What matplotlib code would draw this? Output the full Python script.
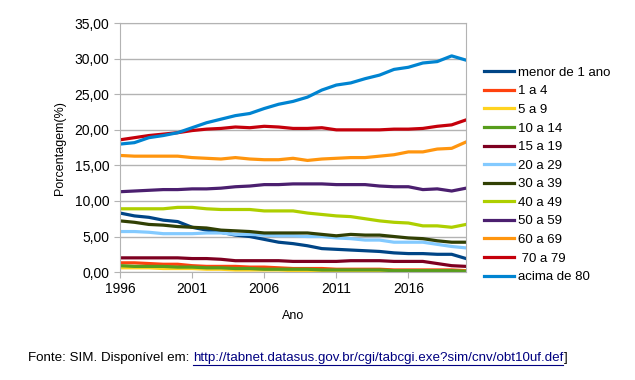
import numpy as np
import matplotlib.pyplot as plt
from matplotlib.ticker import FuncFormatter

plt.rcParams['font.family'] = ['Liberation Sans', 'DejaVu Sans']

anos = list(range(1996, 2021))

menor_1 = [8.3, 7.9, 7.7, 7.3, 7.1, 6.3, 5.9, 5.6, 5.2, 5.0, 4.6, 4.2, 4.0, 3.7, 3.3, 3.2, 3.1, 3.0, 2.9, 2.7, 2.6, 2.6, 2.5, 2.5, 1.9]
de_1_4 = [1.3, 1.3, 1.2, 1.1, 1.1, 0.9, 0.8, 0.8, 0.8, 0.7, 0.7, 0.6, 0.5, 0.5, 0.5, 0.4, 0.4, 0.4, 0.4, 0.3, 0.3, 0.3, 0.3, 0.3, 0.2]
de_5_9 = [0.6, 0.6, 0.6, 0.5, 0.5, 0.5, 0.4, 0.4, 0.3, 0.3, 0.3, 0.3, 0.2, 0.2, 0.2, 0.2, 0.2, 0.2, 0.2, 0.1, 0.1, 0.1, 0.1, 0.1, 0.1]
de_10_14 = [0.9, 0.8, 0.8, 0.8, 0.7, 0.7, 0.6, 0.6, 0.5, 0.5, 0.4, 0.4, 0.4, 0.4, 0.3, 0.3, 0.3, 0.3, 0.3, 0.2, 0.2, 0.2, 0.2, 0.2, 0.1]
de_15_19 = [2.0, 2.0, 2.0, 2.0, 2.0, 1.9, 1.9, 1.8, 1.6, 1.6, 1.6, 1.6, 1.5, 1.5, 1.5, 1.5, 1.6, 1.6, 1.6, 1.5, 1.5, 1.5, 1.2, 0.9, 0.8]
de_20_29 = [5.7, 5.7, 5.6, 5.4, 5.4, 5.4, 5.5, 5.5, 5.3, 5.3, 5.2, 5.1, 5.1, 5.0, 5.0, 4.8, 4.7, 4.5, 4.5, 4.2, 4.2, 4.2, 3.9, 3.6, 3.4]
de_30_39 = [7.2, 7.0, 6.7, 6.6, 6.4, 6.3, 6.2, 5.9, 5.8, 5.7, 5.5, 5.5, 5.5, 5.5, 5.3, 5.1, 5.3, 5.2, 5.2, 5.0, 4.8, 4.7, 4.4, 4.2, 4.2]
de_40_49 = [8.9, 8.9, 8.9, 8.9, 9.1, 9.1, 8.9, 8.8, 8.8, 8.8, 8.6, 8.6, 8.6, 8.3, 8.1, 7.9, 7.8, 7.5, 7.2, 7.0, 6.9, 6.5, 6.5, 6.3, 6.7]
de_50_59 = [11.3, 11.4, 11.5, 11.6, 11.6, 11.7, 11.7, 11.8, 12.0, 12.1, 12.3, 12.3, 12.4, 12.4, 12.4, 12.3, 12.3, 12.3, 12.1, 12.0, 12.0, 11.6, 11.7, 11.4, 11.8]
de_60_69 = [16.4, 16.3, 16.3, 16.3, 16.3, 16.1, 16.0, 15.9, 16.1, 15.9, 15.8, 15.8, 16.0, 15.7, 15.9, 16.0, 16.1, 16.1, 16.3, 16.5, 16.9, 16.9, 17.3, 17.4, 18.3]
de_70_79 = [18.6, 18.9, 19.2, 19.4, 19.6, 19.9, 20.1, 20.2, 20.4, 20.3, 20.5, 20.4, 20.2, 20.2, 20.3, 20.0, 20.0, 20.0, 20.0, 20.1, 20.1, 20.2, 20.5, 20.7, 21.4]
acima_80 = [18.0, 18.2, 18.9, 19.2, 19.6, 20.3, 21.0, 21.5, 22.0, 22.3, 23.0, 23.6, 24.0, 24.6, 25.6, 26.3, 26.6, 27.2, 27.7, 28.5, 28.8, 29.4, 29.6, 30.4, 29.8]

rotulos = ['menor de 1 ano', '1 a 4', '5 a 9', '10 a 14', '15 a 19', '20 a 29',
           '30 a 39', '40 a 49', '50 a 59', '60 a 69', ' 70 a 79', 'acima de 80']
series = [menor_1, de_1_4, de_5_9, de_10_14, de_15_19, de_20_29,
          de_30_39, de_40_49, de_50_59, de_60_69, de_70_79, acima_80]
cores = ['#004586', '#ff420e', '#ffd320', '#579d1c', '#7e0021', '#83caff',
         '#314004', '#aecf00', '#4b1f6f', '#ff950e', '#c5000b', '#0084d1']

fig = plt.figure(figsize=(6.35, 3.80), dpi=100)
ax = fig.add_axes([0.189, 0.284, 0.545, 0.655])

for valores, rotulo, cor in zip(series, rotulos, cores):
    ax.plot(anos, valores, color=cor, linewidth=2.3, label=rotulo,
            solid_joinstyle='round')

ax.set_xlim(1996, 2020)
ax.set_ylim(0, 35)
ax.set_xticks(range(1996, 2020, 5))
ax.set_yticks(np.arange(0, 36, 5))
ax.yaxis.set_major_formatter(FuncFormatter(lambda v, p: f'{v:.2f}'.replace('.', ',')))
ax.grid(axis='y', color='#b3b3b3', linewidth=1)
ax.set_axisbelow(True)
for s in ax.spines.values():
    s.set_color('#b3b3b3')
ax.tick_params(colors='#b3b3b3', labelcolor='black', labelsize=10, length=4)

ax.set_xlabel('Ano', fontsize=9, labelpad=10)
ax.set_ylabel('Porcentagem(%)', fontsize=9, labelpad=6)

fig.legend(loc='upper left', bbox_to_anchor=(0.752, 0.842), frameon=False,
           fontsize=9.5, handlelength=2.3, handletextpad=0.3,
           labelspacing=0.48, borderpad=0)

y_fonte = 0.05
t1 = fig.text(0.044, y_fonte, 'Fonte: SIM. Disponível em: ', fontsize=9.6)
fig.canvas.draw()
bb = t1.get_window_extent()
x_url = bb.x1 / fig.bbox.width
t2 = fig.text(x_url, y_fonte, 'http://tabnet.datasus.gov.br/cgi/tabcgi.exe?sim/cnv/obt10uf.def',
              fontsize=9.6, color='#000080')
fig.canvas.draw()
bb2 = t2.get_window_extent()
fig.add_artist(plt.Line2D([bb2.x0 / fig.bbox.width, bb2.x1 / fig.bbox.width],
                          [(bb2.y0 - 1) / fig.bbox.height] * 2,
                          color='#000080', linewidth=0.8))
fig.text(bb2.x1 / fig.bbox.width, y_fonte, ']', fontsize=9.6)

fig.savefig('out.png', dpi=100)
